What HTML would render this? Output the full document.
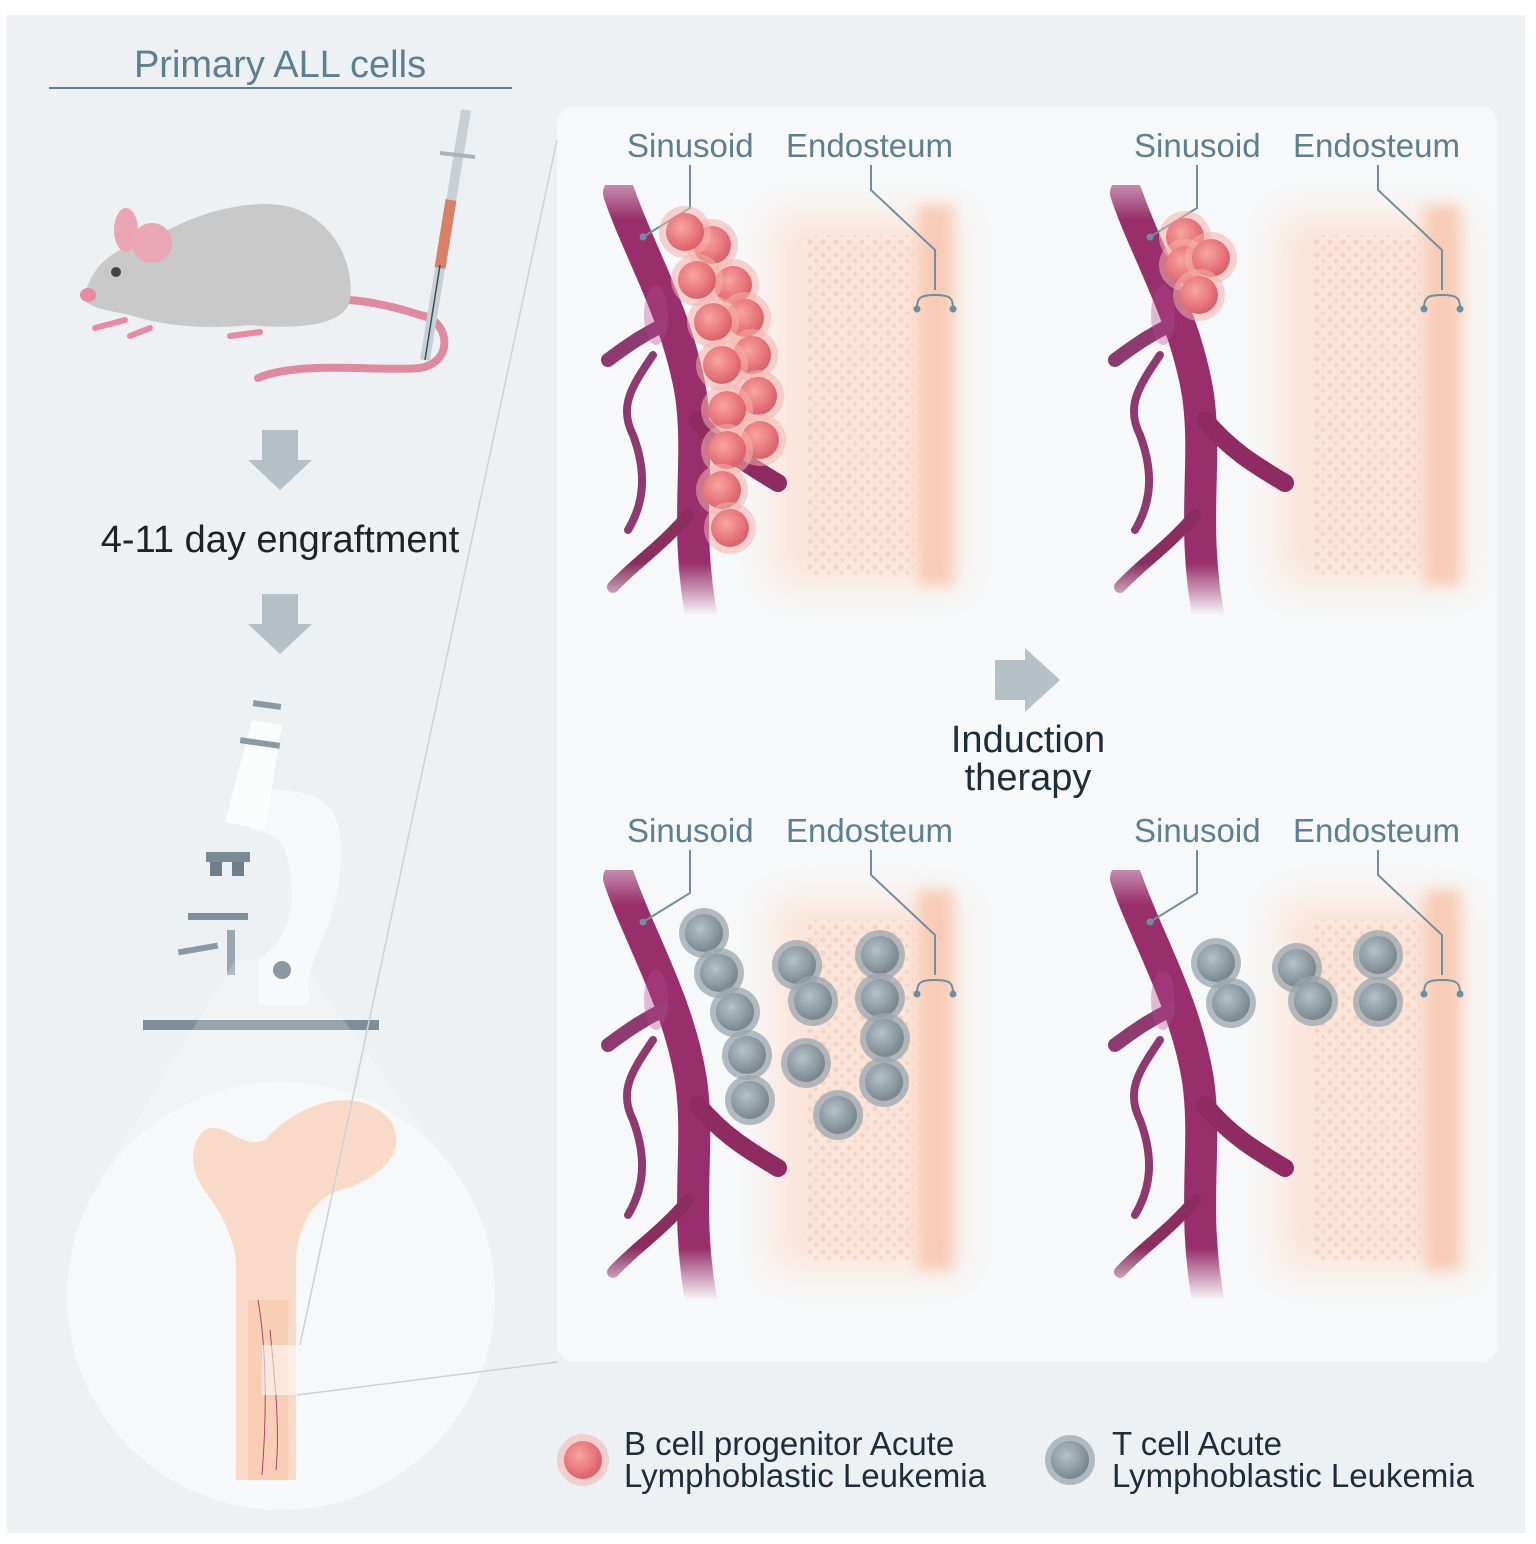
<!DOCTYPE html>
<html><head><meta charset="utf-8"><style>
html,body{margin:0;padding:0;background:#fff;}
svg{display:block;}
text{font-family:"Liberation Sans",sans-serif;}
</style></head><body>
<svg width="1536" height="1544" viewBox="0 0 1536 1544" xmlns="http://www.w3.org/2000/svg">
<defs>
<radialGradient id="pk" cx="0.4" cy="0.38" r="0.6">
<stop offset="0" stop-color="#f6a6a2"/><stop offset="0.7" stop-color="#e8767a"/><stop offset="1" stop-color="#d9646c"/>
</radialGradient>
<radialGradient id="gy" cx="0.4" cy="0.38" r="0.6">
<stop offset="0" stop-color="#b6c1c7"/><stop offset="0.7" stop-color="#8d9aa2"/><stop offset="1" stop-color="#7b8890"/>
</radialGradient>
<filter id="bl" x="-30%" y="-20%" width="160%" height="140%"><feGaussianBlur stdDeviation="18"/></filter>
<filter id="bl2" x="-30%" y="-20%" width="160%" height="140%"><feGaussianBlur stdDeviation="7"/></filter>
<linearGradient id="fadeV" x1="0" x2="0" y1="0" y2="1">
<stop offset="0" stop-color="#888"/>
<stop offset="0.08" stop-color="#fff"/>
<stop offset="0.88" stop-color="#fff"/>
<stop offset="1" stop-color="#000"/>
</linearGradient>
<mask id="vm"><rect x="1050" y="870" width="500" height="430" fill="url(#fadeV)"/></mask>
<pattern id="dots" width="13" height="13" patternUnits="userSpaceOnUse">
<circle cx="4" cy="4" r="2.6" fill="#f3b396" opacity="0.45"/><circle cx="10" cy="10" r="2.2" fill="#f3b396" opacity="0.4"/>
</pattern>
<g id="scene">
<rect x="1280" y="900" width="185" height="370" fill="#fbe4d9" filter="url(#bl)"/>
<rect x="1425" y="890" width="35" height="380" fill="#f8ccb6" filter="url(#bl2)"/>
<rect x="1312" y="920" width="108" height="340" fill="url(#dots)" opacity="0.8"/>
<g mask="url(#vm)" fill="none" stroke="#982f6c" stroke-linecap="round">
<path d="M1126 878 C1145 935 1185 1000 1198 1080 C1208 1150 1190 1210 1210 1310" stroke-width="32"/>
<path d="M1205 1105 C1230 1135 1255 1150 1285 1168" stroke-width="18" stroke="#8e2c62"/>
<path d="M1170 1010 C1150 1020 1135 1030 1115 1045" stroke-width="14" stroke="#8e3a70"/>
<path d="M1160 1040 C1140 1070 1125 1090 1140 1120 C1155 1160 1150 1190 1135 1215" stroke-width="8" stroke="#8e3a70"/>
<path d="M1195 1200 C1170 1230 1140 1250 1120 1272" stroke-width="12" stroke="#8a2e60"/>
</g>
<ellipse cx="1163" cy="1000" rx="12" ry="30" fill="#b4488e" opacity="0.35"/>
</g>
<g id="pc"><circle r="26" fill="#f4b3ad" opacity="0.55"/><circle r="19" fill="url(#pk)"/></g>
<g id="gc"><circle r="25" fill="#9aa6ad" opacity="0.75"/><circle r="19" fill="url(#gy)"/></g>
</defs>

<rect width="1536" height="1544" fill="#fff"/>
<rect x="7" y="15" width="1518" height="1518" fill="#eef1f3"/>

<text x="280" y="77" font-size="38" fill="#5d7f90" text-anchor="middle">Primary ALL cells</text>
<line x1="49" y1="88" x2="512" y2="88" stroke="#5d7f90" stroke-width="2"/>

<path d="M258 378 C300 360 380 372 420 368 C455 362 450 320 420 315 C390 305 360 300 345 300" fill="none" stroke="#e08aa0" stroke-width="8" stroke-linecap="round"/>
<path d="M85 295 C92 262 120 245 150 240 C190 215 240 200 280 205 C330 212 355 260 350 300 C345 325 300 330 250 325 C200 330 160 325 130 315 C105 310 82 307 85 295Z" fill="#c9c9c9"/>
<ellipse cx="126" cy="230" rx="12" ry="22" fill="#eba5b5"/>
<ellipse cx="152" cy="243" rx="20" ry="20" fill="#eaa8b6"/>
<circle cx="116" cy="272" r="5" fill="#444"/>
<ellipse cx="88" cy="295" rx="8" ry="7" fill="#e88aa0"/>
<path d="M125 320 l-30 8 M150 328 l-20 8 M260 332 l-30 4" stroke="#e98aa3" stroke-width="6" stroke-linecap="round"/>
<line x1="466" y1="110" x2="425" y2="360" stroke="#c8d0d6" stroke-width="10"/>
<line x1="451" y1="200" x2="440" y2="268" stroke="#d88068" stroke-width="11"/>
<line x1="440" y1="265" x2="425" y2="360" stroke="#3a5060" stroke-width="1.5"/>
<line x1="440" y1="153" x2="475" y2="157" stroke="#a9b4bb" stroke-width="4"/>

<path d="M262 430 h36 v30 h14 l-32 30 l-32 -30 h14z" fill="#b5c0c7"/>
<text x="280" y="552" font-size="38" fill="#222" text-anchor="middle">4-11 day engraftment</text>
<path d="M262 594 h36 v30 h14 l-32 30 l-32 -30 h14z" fill="#b5c0c7"/>

<path d="M270 790 C330 790 345 810 340 870 C335 940 300 960 310 1005 L258 1005 L258 960 C290 940 300 900 285 850 C275 830 255 830 250 830Z" fill="#f7f8f9"/>
<path d="M252 720 L282 725 L265 830 L225 822Z" fill="#fbfcfc"/>
<rect x="253" y="702" width="28" height="6" fill="#8a99a3" transform="rotate(8 267 705)"/>
<rect x="240" y="740" width="40" height="6" fill="#8a99a3" transform="rotate(8 260 743)"/>
<rect x="206" y="852" width="44" height="10" fill="#7a8a94"/>
<rect x="210" y="862" width="12" height="14" fill="#6f7f8a"/><rect x="232" y="862" width="12" height="14" fill="#6f7f8a"/>
<rect x="188" y="913" width="60" height="7" fill="#7f8f99"/>
<rect x="178" y="946" width="40" height="6" fill="#8a99a3" transform="rotate(-10 198 949)"/>
<rect x="227" y="930" width="8" height="45" fill="#9aa7af"/>
<circle cx="282" cy="970" r="9" fill="#6f7f8a"/>
<rect x="143" y="1020" width="236" height="10" fill="#7f8e98"/>

<path d="M235 960 L100 1180 L460 1180 L300 960Z" fill="#fff" opacity="0.2"/>
<circle cx="281" cy="1296" r="214" fill="#f7f8f9"/>
<path d="M205 1130 C225 1120 240 1150 265 1140 C300 1100 360 1085 390 1120 C410 1150 380 1180 340 1190 C310 1200 298 1230 296 1260 L296 1480 L236 1480 L236 1260 C230 1220 210 1200 198 1180 C190 1160 192 1140 205 1130Z" fill="#f9d9c8"/>
<rect x="248" y="1300" width="40" height="180" fill="#f7c8a8" opacity="0.6"/>
<path d="M258 1300 C265 1340 268 1400 262 1475 M270 1330 C275 1380 280 1430 276 1470" stroke="#b04070" stroke-width="1" fill="none"/>
<rect x="262" y="1345" width="35" height="50" fill="#fff" opacity="0.55"/>

<rect x="557" y="106" width="941" height="1256" rx="18" fill="#f7f8f9"/>
<line x1="557" y1="140" x2="300" y2="1345" stroke="#c9d2d8" stroke-width="1.5"/>
<line x1="557" y1="1362" x2="297" y2="1395" stroke="#c9d2d8" stroke-width="1.5"/>

<use href="#scene" transform="translate(-507,-685)"/>
<use href="#scene" transform="translate(0,-685)"/>
<use href="#scene" transform="translate(-507,0)"/>
<use href="#scene"/>

<g font-size="33" fill="#5d7f90">
<text x="627" y="157">Sinusoid</text><text x="786" y="157">Endosteum</text>
<text x="1134" y="157">Sinusoid</text><text x="1293" y="157">Endosteum</text>
<text x="627" y="842">Sinusoid</text><text x="786" y="842">Endosteum</text>
<text x="1134" y="842">Sinusoid</text><text x="1293" y="842">Endosteum</text>
</g>
<g id="ld" fill="none" stroke="#6f8fa0" stroke-width="2">
<path d="M690 165 V208 L643 237"/>
<path d="M871 165 V190 L935 250 V290 M917 308 C917 298 920 295 935 295 C950 295 953 298 953 308"/>
</g>
<use href="#ld" transform="translate(507,0)"/><use href="#ld" transform="translate(0,685)"/><use href="#ld" transform="translate(507,685)"/>
<g fill="#6f8fa0">
<circle cx="643" cy="237" r="3.5"/><circle cx="917" cy="309" r="3.5"/><circle cx="953" cy="309" r="3.5"/>
<circle cx="1150" cy="237" r="3.5"/><circle cx="1424" cy="309" r="3.5"/><circle cx="1460" cy="309" r="3.5"/>
<circle cx="643" cy="922" r="3.5"/><circle cx="917" cy="994" r="3.5"/><circle cx="953" cy="994" r="3.5"/>
<circle cx="1150" cy="922" r="3.5"/><circle cx="1424" cy="994" r="3.5"/><circle cx="1460" cy="994" r="3.5"/>
</g>

<use href="#pc" x="712" y="245"/><use href="#pc" x="685" y="232"/>
<use href="#pc" x="733" y="285"/><use href="#pc" x="697" y="280"/>
<use href="#pc" x="745" y="318"/><use href="#pc" x="713" y="322"/>
<use href="#pc" x="752" y="355"/><use href="#pc" x="722" y="365"/>
<use href="#pc" x="758" y="396"/><use href="#pc" x="727" y="410"/>
<use href="#pc" x="760" y="440"/><use href="#pc" x="727" y="450"/>
<use href="#pc" x="722" y="490"/><use href="#pc" x="730" y="528"/>
<use href="#pc" x="1185" y="237"/><use href="#pc" x="1185" y="265"/><use href="#pc" x="1211" y="258"/><use href="#pc" x="1199" y="295"/>

<use href="#gc" x="704" y="933"/><use href="#gc" x="719" y="973"/><use href="#gc" x="735" y="1012"/><use href="#gc" x="747" y="1055"/><use href="#gc" x="750" y="1100"/>
<use href="#gc" x="797" y="965"/><use href="#gc" x="813" y="1001"/><use href="#gc" x="806" y="1063"/><use href="#gc" x="838" y="1115"/>
<use href="#gc" x="880" y="955"/><use href="#gc" x="880" y="998"/><use href="#gc" x="885" y="1038"/><use href="#gc" x="884" y="1082"/>
<use href="#gc" x="1216" y="963"/><use href="#gc" x="1231" y="1003"/><use href="#gc" x="1297" y="968"/><use href="#gc" x="1313" y="1001"/><use href="#gc" x="1378" y="955"/><use href="#gc" x="1378" y="1002"/>

<path d="M995 660 h30 v-12 l35 32 l-35 32 v-12 h-30z" fill="#b5c0c7"/>
<text x="1028" y="752" font-size="38" fill="#1f2d3a" text-anchor="middle">Induction</text>
<text x="1028" y="790" font-size="38" fill="#1f2d3a" text-anchor="middle">therapy</text>

<use href="#pc" x="583" y="1460"/>
<text x="624" y="1455" font-size="33" fill="#1f2d3a">B cell progenitor Acute</text>
<text x="624" y="1487" font-size="33" fill="#1f2d3a">Lymphoblastic Leukemia</text>
<use href="#gc" x="1070" y="1460"/>
<text x="1112" y="1455" font-size="33" fill="#1f2d3a">T cell Acute</text>
<text x="1112" y="1487" font-size="33" fill="#1f2d3a">Lymphoblastic Leukemia</text>
</svg>
</body></html>
